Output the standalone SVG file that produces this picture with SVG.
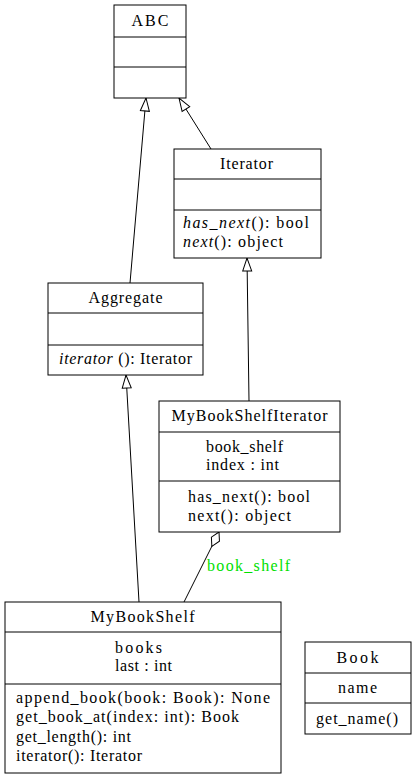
<svg xmlns="http://www.w3.org/2000/svg" width="416" height="780" viewBox="0 0 416 780">
<style>
text{font-family:'Liberation Serif','Times New Roman','DejaVu Serif',serif;font-size:16px;fill:#000}
.c{text-anchor:middle}
.box{fill:#fff;stroke:#000;stroke-width:1}
.sep{stroke:#000;stroke-width:1}
.edge{fill:none;stroke:#000;stroke-width:1}
.lbl{fill:#00e000}
</style>
<defs>
<marker id="tri" markerUnits="userSpaceOnUse" markerWidth="14" markerHeight="10" refX="13" refY="4.5" orient="auto" overflow="visible">
<path d="M0,0 L13,4.5 L0,9 z" fill="#fff" stroke="#000" stroke-width="1"/>
</marker>
<marker id="dia" markerUnits="userSpaceOnUse" markerWidth="18" markerHeight="10" refX="16" refY="4.5" orient="auto" overflow="visible">
<path d="M0,4.5 L8,0 L16,4.5 L8,9 z" fill="#fff" stroke="#000" stroke-width="1"/>
</marker>
</defs>
<rect width="416" height="780" fill="#fff"/>
<g id="edges">
<path class="edge" d="M130,283 L146,98" marker-end="url(#tri)"/>
<path class="edge" d="M211,149 L179,98" marker-end="url(#tri)"/>
<path class="edge" d="M249,401 L247,258" marker-end="url(#tri)"/>
<path class="edge" d="M139,602 L126,375" marker-end="url(#tri)"/>
<path class="edge" d="M184,602 L219,532" marker-end="url(#dia)"/>
<text class="lbl" x="207" y="571" textLength="83" lengthAdjust="spacing">book_shelf</text>
</g>
<g id="ABC">
<rect class="box" x="114" y="5" width="72" height="93"/>
<line class="sep" x1="114" y1="37" x2="186" y2="37"/>
<line class="sep" x1="114" y1="67" x2="186" y2="67"/>
<text class="c" x="150" y="26" textLength="37" lengthAdjust="spacing">ABC</text>
</g>
<g id="Iterator">
<rect class="box" x="174" y="149" width="147" height="109"/>
<line class="sep" x1="174" y1="179" x2="321" y2="179"/>
<line class="sep" x1="174" y1="210" x2="321" y2="210"/>
<text class="c" x="246.5" y="169" textLength="53" lengthAdjust="spacing">Iterator</text>
<text x="183" y="228" textLength="126" lengthAdjust="spacing"><tspan font-style="italic">has_next</tspan>(): bool</text>
<text x="183" y="247" textLength="100" lengthAdjust="spacing"><tspan font-style="italic">next</tspan>(): object</text>
</g>
<g id="Aggregate">
<rect class="box" x="48" y="283" width="155" height="92"/>
<line class="sep" x1="48" y1="313" x2="203" y2="313"/>
<line class="sep" x1="48" y1="345" x2="203" y2="345"/>
<text class="c" x="125.5" y="303" textLength="74" lengthAdjust="spacing">Aggregate</text>
<text x="59" y="364" textLength="133" lengthAdjust="spacing"><tspan font-style="italic">iterator</tspan> (): Iterator</text>
</g>
<g id="MyBookShelfIterator">
<rect class="box" x="159" y="401" width="181" height="131"/>
<line class="sep" x1="159" y1="432" x2="340" y2="432"/>
<line class="sep" x1="159" y1="481" x2="340" y2="481"/>
<text class="c" x="249.5" y="421" textLength="156" lengthAdjust="spacing">MyBookShelfIterator</text>
<text x="206" y="452" textLength="77" lengthAdjust="spacing">book_shelf</text>
<text x="206" y="470" textLength="73" lengthAdjust="spacing">index : int</text>
<text x="188" y="502" textLength="122" lengthAdjust="spacing">has_next(): bool</text>
<text x="188" y="521" textLength="103" lengthAdjust="spacing">next(): object</text>
</g>
<g id="MyBookShelf">
<rect class="box" x="5" y="602" width="276" height="171"/>
<line class="sep" x1="5" y1="632" x2="281" y2="632"/>
<line class="sep" x1="5" y1="684" x2="281" y2="684"/>
<text class="c" x="142.5" y="622" textLength="104" lengthAdjust="spacing">MyBookShelf</text>
<text x="115" y="653" textLength="47" lengthAdjust="spacing">books</text>
<text x="115" y="671" textLength="57" lengthAdjust="spacing">last : int</text>
<text x="16" y="703" textLength="254" lengthAdjust="spacing">append_book(book: Book): None</text>
<text x="16" y="722" textLength="223" lengthAdjust="spacing">get_book_at(index: int): Book</text>
<text x="16" y="742" textLength="115" lengthAdjust="spacing">get_length(): int</text>
<text x="16" y="761" textLength="126" lengthAdjust="spacing">iterator(): Iterator</text>
</g>
<g id="Book">
<rect class="box" x="305" y="642" width="106" height="92"/>
<line class="sep" x1="305" y1="673" x2="411" y2="673"/>
<line class="sep" x1="305" y1="703" x2="411" y2="703"/>
<text class="c" x="357.5" y="663" textLength="42" lengthAdjust="spacing">Book</text>
<text class="c" x="357.5" y="693" textLength="39" lengthAdjust="spacing">name</text>
<text class="c" x="357" y="724" textLength="82" lengthAdjust="spacing">get_name()</text>
</g>
</svg>
